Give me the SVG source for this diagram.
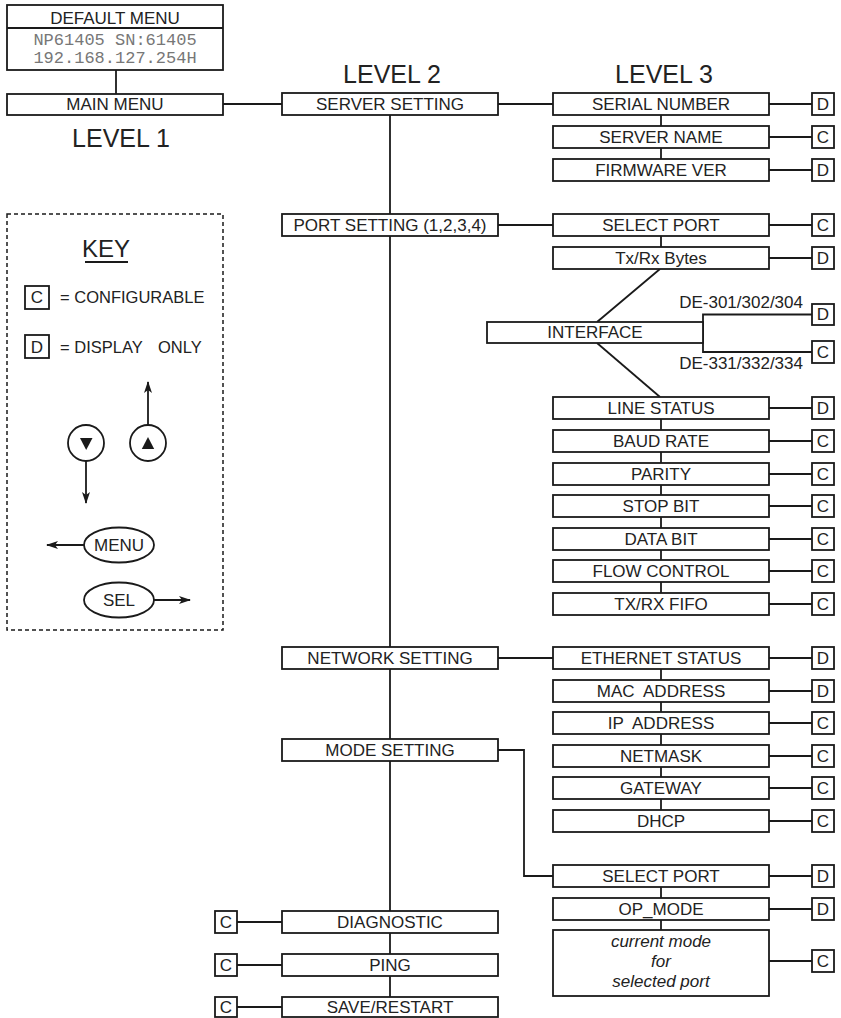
<svg xmlns="http://www.w3.org/2000/svg" width="841" height="1018" viewBox="0 0 841 1018">
<defs>
<marker id="ah" viewBox="0 0 12 8" refX="11" refY="4" markerWidth="12" markerHeight="8" markerUnits="userSpaceOnUse" orient="auto"><path d="M0,0 L12,4 L0,8 L3,4 Z" fill="#1a1a1a"/></marker>
<style>
.b{fill:#fff;stroke:#1a1a1a;stroke-width:1.8}
.l{fill:none;stroke:#1a1a1a;stroke-width:1.8}
.t{font-family:"Liberation Sans",Arial,sans-serif;font-size:17px;fill:#222;text-anchor:middle}
.s{text-anchor:start}
.e{text-anchor:end}
.i{font-style:italic}
.m{font-family:"Liberation Mono","Courier New",monospace;font-size:17px;fill:#777;text-anchor:middle}
.lv{font-family:"Liberation Sans",Arial,sans-serif;font-size:25px;fill:#222;text-anchor:middle}
</style>
</defs>
<rect width="841" height="1018" fill="#fff"/>

<g id="connectors" class="l">
<line x1="116" y1="70" x2="116" y2="94"/>
<line x1="223" y1="104" x2="282" y2="104"/>
<line x1="498" y1="104" x2="553" y2="104"/>
<line x1="498" y1="225" x2="553" y2="225"/>
<line x1="498" y1="658" x2="553" y2="658"/>
<path d="M498,750 H524 V876 H553"/>
<line x1="390" y1="115" x2="390" y2="214"/>
<line x1="390" y1="236" x2="390" y2="647"/>
<line x1="390" y1="669" x2="390" y2="739"/>
<line x1="390" y1="761" x2="390" y2="911"/>
<line x1="390" y1="933" x2="390" y2="954"/>
<line x1="390" y1="976" x2="390" y2="997"/>
<line x1="237" y1="922" x2="282" y2="922"/>
<line x1="237" y1="965" x2="282" y2="965"/>
<line x1="237" y1="1007" x2="282" y2="1007"/>
<line x1="661" y1="115" x2="661" y2="126"/>
<line x1="661" y1="148" x2="661" y2="159"/>
<line x1="661" y1="236" x2="661" y2="247"/>
<line x1="660" y1="269" x2="597" y2="322"/>
<line x1="597" y1="343" x2="660" y2="397"/>
<path d="M812,314.5 H703 V352 H812"/>
<line x1="661" y1="419" x2="661" y2="430"/>
<line x1="661" y1="452" x2="661" y2="463"/>
<line x1="661" y1="485" x2="661" y2="495"/>
<line x1="661" y1="517" x2="661" y2="528"/>
<line x1="661" y1="550" x2="661" y2="560"/>
<line x1="661" y1="582" x2="661" y2="593"/>
<line x1="661" y1="669" x2="661" y2="680"/>
<line x1="661" y1="702" x2="661" y2="712"/>
<line x1="661" y1="734" x2="661" y2="745"/>
<line x1="661" y1="767" x2="661" y2="777"/>
<line x1="661" y1="799" x2="661" y2="810"/>
<line x1="661" y1="887" x2="661" y2="898"/>
<line x1="661" y1="920" x2="661" y2="930"/>
<line x1="769" y1="104" x2="812" y2="104"/>
<line x1="769" y1="137" x2="812" y2="137"/>
<line x1="769" y1="170" x2="812" y2="170"/>
<line x1="769" y1="225" x2="812" y2="225"/>
<line x1="769" y1="258" x2="812" y2="258"/>
<line x1="769" y1="408" x2="812" y2="408"/>
<line x1="769" y1="441" x2="812" y2="441"/>
<line x1="769" y1="474" x2="812" y2="474"/>
<line x1="769" y1="506" x2="812" y2="506"/>
<line x1="769" y1="539" x2="812" y2="539"/>
<line x1="769" y1="571" x2="812" y2="571"/>
<line x1="769" y1="604" x2="812" y2="604"/>
<line x1="769" y1="658" x2="812" y2="658"/>
<line x1="769" y1="691" x2="812" y2="691"/>
<line x1="769" y1="723" x2="812" y2="723"/>
<line x1="769" y1="756" x2="812" y2="756"/>
<line x1="769" y1="788" x2="812" y2="788"/>
<line x1="769" y1="821" x2="812" y2="821"/>
<line x1="769" y1="876" x2="812" y2="876"/>
<line x1="769" y1="909" x2="812" y2="909"/>
<line x1="769" y1="961" x2="812" y2="961"/>
</g>

<g id="default-menu">
<rect class="b" x="7" y="5" width="216" height="65"/>
<line class="l" x1="7" y1="28" x2="223" y2="28"/>
<text class="t" x="115" y="24">DEFAULT MENU</text>
<text class="m" x="115" y="45">NP61405 SN:61405</text>
<text class="m" x="115" y="63">192.168.127.254H</text>
</g>
<g id="main-menu"><rect class="b" x="7" y="94" width="216" height="21"/><text class="t" x="115" y="110">MAIN MENU</text></g>

<text class="lv" x="121" y="147">LEVEL 1</text>
<text class="lv" x="392" y="83">LEVEL 2</text>
<text class="lv" x="664" y="83">LEVEL 3</text>

<g id="server-setting"><rect class="b" x="282" y="93" width="216" height="22"/><text class="t" x="390" y="110">SERVER SETTING</text></g>
<g id="port-setting"><rect class="b" x="282" y="214" width="216" height="22"/><text class="t" x="390" y="231">PORT SETTING (1,2,3,4)</text></g>
<g id="network-setting"><rect class="b" x="282" y="647" width="216" height="22"/><text class="t" x="390" y="664">NETWORK SETTING</text></g>
<g id="mode-setting"><rect class="b" x="282" y="739" width="216" height="22"/><text class="t" x="390" y="756">MODE SETTING</text></g>
<g id="diagnostic"><rect class="b" x="282" y="911" width="216" height="22"/><text class="t" x="390" y="928">DIAGNOSTIC</text></g>
<g id="ping"><rect class="b" x="282" y="954" width="216" height="22"/><text class="t" x="390" y="971">PING</text></g>
<g id="save-restart"><rect class="b" x="282" y="997" width="216" height="20"/><text class="t" x="390" y="1013">SAVE/RESTART</text></g>
<g id="diagnostic-c"><rect class="b" x="215" y="911" width="22" height="22"/><text class="t" x="226" y="928">C</text></g>
<g id="ping-c"><rect class="b" x="215" y="954" width="22" height="22"/><text class="t" x="226" y="971">C</text></g>
<g id="save-restart-c"><rect class="b" x="215" y="997" width="22" height="20"/><text class="t" x="226" y="1013">C</text></g>

<g id="serial-number"><rect class="b" x="553" y="93" width="216" height="22"/><text class="t" x="661" y="110">SERIAL NUMBER</text></g>
<g id="serial-number-d"><rect class="b" x="812" y="93" width="22" height="22"/><text class="t" x="823" y="110">D</text></g>
<g id="server-name"><rect class="b" x="553" y="126" width="216" height="22"/><text class="t" x="661" y="143">SERVER NAME</text></g>
<g id="server-name-c"><rect class="b" x="812" y="126" width="22" height="22"/><text class="t" x="823" y="143">C</text></g>
<g id="firmware-ver"><rect class="b" x="553" y="159" width="216" height="22"/><text class="t" x="661" y="176">FIRMWARE VER</text></g>
<g id="firmware-ver-d"><rect class="b" x="812" y="159" width="22" height="22"/><text class="t" x="823" y="176">D</text></g>

<g id="select-port"><rect class="b" x="553" y="214" width="216" height="22"/><text class="t" x="661" y="231">SELECT PORT</text></g>
<g id="select-port-c"><rect class="b" x="812" y="214" width="22" height="22"/><text class="t" x="823" y="231">C</text></g>
<g id="txrx-bytes"><rect class="b" x="553" y="247" width="216" height="22"/><text class="t" x="661" y="264">Tx/Rx Bytes</text></g>
<g id="txrx-bytes-d"><rect class="b" x="812" y="247" width="22" height="22"/><text class="t" x="823" y="264">D</text></g>

<g id="interface"><rect class="b" x="487" y="322" width="216" height="21"/><text class="t" x="595" y="338">INTERFACE</text></g>
<text class="t e" x="803" y="308">DE-301/302/304</text>
<text class="t e" x="803" y="369">DE-331/332/334</text>
<g id="interface-d"><rect class="b" x="812" y="304" width="22" height="21"/><text class="t" x="823" y="320">D</text></g>
<g id="interface-c"><rect class="b" x="812" y="341" width="22" height="22"/><text class="t" x="823" y="358">C</text></g>

<g id="line-status"><rect class="b" x="553" y="397" width="216" height="22"/><text class="t" x="661" y="414">LINE STATUS</text></g>
<g id="line-status-d"><rect class="b" x="812" y="397" width="22" height="22"/><text class="t" x="823" y="414">D</text></g>
<g id="baud-rate"><rect class="b" x="553" y="430" width="216" height="22"/><text class="t" x="661" y="447">BAUD RATE</text></g>
<g id="baud-rate-c"><rect class="b" x="812" y="430" width="22" height="22"/><text class="t" x="823" y="447">C</text></g>
<g id="parity"><rect class="b" x="553" y="463" width="216" height="22"/><text class="t" x="661" y="480">PARITY</text></g>
<g id="parity-c"><rect class="b" x="812" y="463" width="22" height="22"/><text class="t" x="823" y="480">C</text></g>
<g id="stop-bit"><rect class="b" x="553" y="495" width="216" height="22"/><text class="t" x="661" y="512">STOP BIT</text></g>
<g id="stop-bit-c"><rect class="b" x="812" y="495" width="22" height="22"/><text class="t" x="823" y="512">C</text></g>
<g id="data-bit"><rect class="b" x="553" y="528" width="216" height="22"/><text class="t" x="661" y="545">DATA BIT</text></g>
<g id="data-bit-c"><rect class="b" x="812" y="528" width="22" height="22"/><text class="t" x="823" y="545">C</text></g>
<g id="flow-control"><rect class="b" x="553" y="560" width="216" height="22"/><text class="t" x="661" y="577">FLOW CONTROL</text></g>
<g id="flow-control-c"><rect class="b" x="812" y="560" width="22" height="22"/><text class="t" x="823" y="577">C</text></g>
<g id="txrx-fifo"><rect class="b" x="553" y="593" width="216" height="22"/><text class="t" x="661" y="610">TX/RX FIFO</text></g>
<g id="txrx-fifo-c"><rect class="b" x="812" y="593" width="22" height="22"/><text class="t" x="823" y="610">C</text></g>

<g id="ethernet-status"><rect class="b" x="553" y="647" width="216" height="22"/><text class="t" x="661" y="664">ETHERNET STATUS</text></g>
<g id="ethernet-status-d"><rect class="b" x="812" y="647" width="22" height="22"/><text class="t" x="823" y="664">D</text></g>
<g id="mac-address"><rect class="b" x="553" y="680" width="216" height="22"/><text class="t" x="661" y="697" xml:space="preserve">MAC  ADDRESS</text></g>
<g id="mac-address-d"><rect class="b" x="812" y="680" width="22" height="22"/><text class="t" x="823" y="697">D</text></g>
<g id="ip-address"><rect class="b" x="553" y="712" width="216" height="22"/><text class="t" x="661" y="729" xml:space="preserve">IP  ADDRESS</text></g>
<g id="ip-address-c"><rect class="b" x="812" y="712" width="22" height="22"/><text class="t" x="823" y="729">C</text></g>
<g id="netmask"><rect class="b" x="553" y="745" width="216" height="22"/><text class="t" x="661" y="762">NETMASK</text></g>
<g id="netmask-c"><rect class="b" x="812" y="745" width="22" height="22"/><text class="t" x="823" y="762">C</text></g>
<g id="gateway"><rect class="b" x="553" y="777" width="216" height="22"/><text class="t" x="661" y="794">GATEWAY</text></g>
<g id="gateway-c"><rect class="b" x="812" y="777" width="22" height="22"/><text class="t" x="823" y="794">C</text></g>
<g id="dhcp"><rect class="b" x="553" y="810" width="216" height="22"/><text class="t" x="661" y="827">DHCP</text></g>
<g id="dhcp-c"><rect class="b" x="812" y="810" width="22" height="22"/><text class="t" x="823" y="827">C</text></g>

<g id="mode-select-port"><rect class="b" x="553" y="865" width="216" height="22"/><text class="t" x="661" y="882">SELECT PORT</text></g>
<g id="mode-select-port-d"><rect class="b" x="812" y="865" width="22" height="22"/><text class="t" x="823" y="882">D</text></g>
<g id="op-mode"><rect class="b" x="553" y="898" width="216" height="22"/><text class="t" x="661" y="915">OP_MODE</text></g>
<g id="op-mode-d"><rect class="b" x="812" y="898" width="22" height="22"/><text class="t" x="823" y="915">D</text></g>
<g id="current-mode"><rect class="b" x="553" y="930" width="216" height="66"/>
<text class="t i" x="661" y="947">current mode</text>
<text class="t i" x="661" y="967">for</text>
<text class="t i" x="661" y="987">selected port</text></g>
<g id="current-mode-c"><rect class="b" x="812" y="950" width="22" height="22"/><text class="t" x="823" y="967">C</text></g>

<g id="key">
<rect x="7" y="214" width="216" height="416" fill="none" stroke="#1a1a1a" stroke-width="1.5" stroke-dasharray="4 3"/>
<text class="lv" x="106" y="257" style="font-size:24px">KEY</text>
<line class="l" x1="85" y1="262" x2="128" y2="262" stroke-width="1.5"/>
<rect class="b" x="25" y="286" width="24" height="23"/><text class="t" x="37" y="303">C</text>
<text class="t s" x="60" y="303" style="font-size:16.5px">= CONFIGURABLE</text>
<rect class="b" x="25" y="335" width="24" height="23"/><text class="t" x="37" y="353">D</text>
<text class="t s" x="60" y="353" style="font-size:16.5px">= DISPLAY</text>
<text class="t s" x="158" y="353" style="font-size:16.5px">ONLY</text>
<circle class="b" cx="86" cy="443" r="18"/>
<path d="M80,438 L92.5,438 L86.2,450 Z" fill="#1a1a1a"/>
<circle class="b" cx="148" cy="443" r="18"/>
<path d="M141.8,449 L154.2,449 L148,437 Z" fill="#1a1a1a"/>
<line class="l" x1="148" y1="425" x2="148" y2="382" marker-end="url(#ah)"/>
<line class="l" x1="86" y1="461" x2="86" y2="503" marker-end="url(#ah)"/>
<ellipse class="b" cx="119" cy="545" rx="35" ry="17.5"/>
<text class="t" x="119" y="551">MENU</text>
<line class="l" x1="84" y1="545" x2="47" y2="545" marker-end="url(#ah)"/>
<ellipse class="b" cx="119" cy="600" rx="35" ry="17.5"/>
<text class="t" x="119" y="606">SEL</text>
<line class="l" x1="154" y1="600" x2="190" y2="600" marker-end="url(#ah)"/>
</g>
</svg>
